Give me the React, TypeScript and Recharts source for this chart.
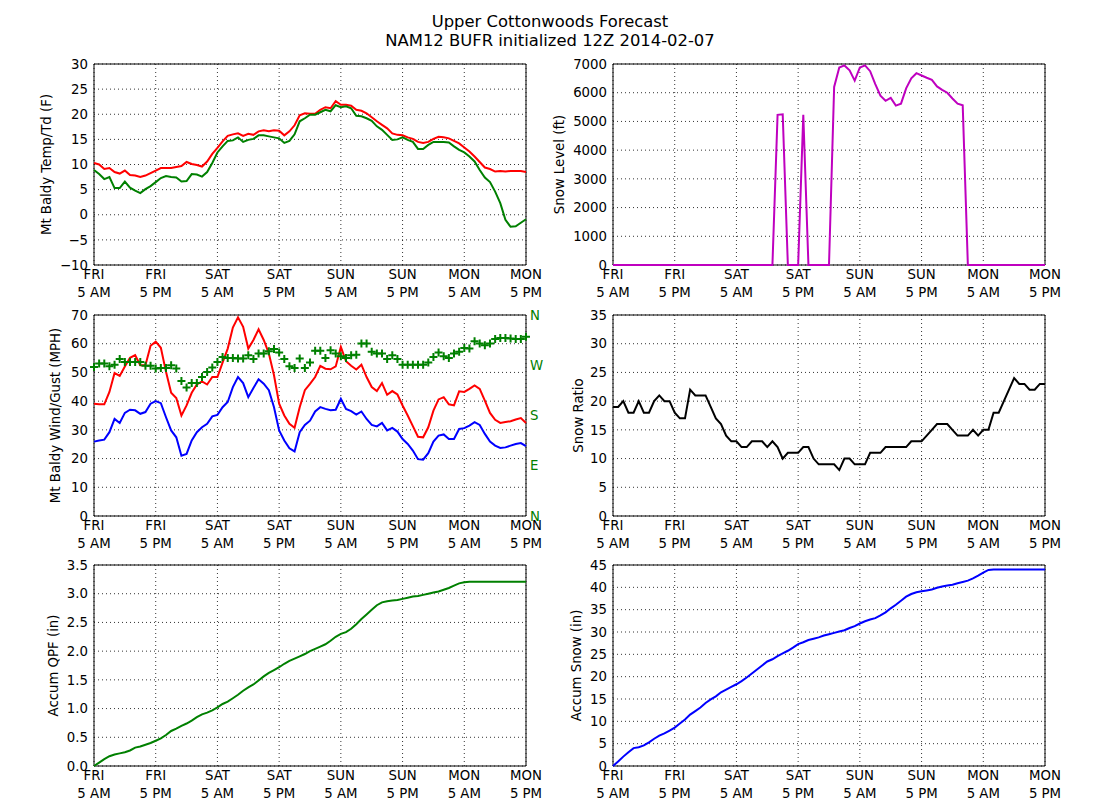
import React from "react";
import {
  LineChart,
  Line,
  XAxis,
  YAxis,
  CartesianGrid,
  ReferenceArea,
} from "recharts";

// x axis: forecast hour 0..84, labelled every 12 h
const hourTicks = [0, 12, 24, 36, 48, 60, 72, 84];
const tickDays = ["FRI", "FRI", "SAT", "SAT", "SUN", "SUN", "MON", "MON"];
const tickTimes = ["5 AM", "5 PM", "5 AM", "5 PM", "5 AM", "5 PM", "5 AM", "5 PM"];

// Mt Baldy temperature / dewpoint (F)
const temp = [
  10.3, 10.0, 9.1, 9.3, 8.5, 8.2, 8.8, 7.9, 7.8, 7.5,
  7.8, 8.3, 8.8, 9.3, 9.3, 9.3, 9.5, 9.7, 10.5, 10.1,
  9.9, 9.6, 10.6, 12.1, 13.3, 14.6, 15.7, 16.0, 16.2, 15.7,
  16.1, 15.9, 16.6, 16.8, 16.6, 16.8, 16.7, 15.8, 16.6, 17.8,
  19.8, 20.2, 20.1, 20.1, 20.9, 21.4, 21.2, 22.6, 21.9, 21.9,
  21.7, 20.9, 20.7, 20.2, 19.4, 18.6, 17.9, 17.2, 16.2, 15.9,
  15.8, 15.4, 15.1, 14.5, 14.3, 14.5, 15.1, 15.5, 15.4, 15.2,
  14.7, 14.2, 13.4, 12.6, 11.6, 10.5, 9.4, 9.1, 8.6, 8.7,
  8.6, 8.7, 8.7, 8.7, 8.5,
];
const dewpoint = [
  8.9, 8.1, 7.1, 7.5, 5.3, 5.3, 6.6, 5.4, 4.8, 4.3,
  5.1, 5.7, 6.5, 7.3, 7.7, 7.5, 7.4, 6.6, 6.7, 8.1,
  8.0, 7.6, 8.5, 10.3, 12.4, 13.6, 14.7, 14.8, 15.4, 14.5,
  14.9, 15.1, 15.8, 15.8, 15.6, 15.4, 15.2, 14.3, 14.7, 16.0,
  18.6, 19.2, 19.9, 19.9, 20.4, 20.9, 20.6, 21.8, 21.4, 21.6,
  21.2, 19.7, 19.6, 19.2, 18.7, 17.6, 16.9, 15.9, 14.9, 15.0,
  15.4, 14.9, 14.5, 13.1, 13.1, 13.9, 14.5, 14.5, 14.5, 14.4,
  13.6, 12.9, 12.4, 11.6, 10.6, 8.9, 7.4, 6.5, 4.6, 2.3,
  -1.0, -2.4, -2.3, -1.6, -0.9,
];

// snow level (ft)
const snowLevel = [
  0, 0, 0, 0, 0, 0, 0, 0, 0, 0,
  0, 0, 0, 0, 0, 0, 0, 0, 0, 0,
  0, 0, 0, 0, 0, 0, 0, 0, 0, 0,
  0, 0, 5230, 5250, 0, 0, 0, 5230, 0, 0,
  0, 0, 0, 6200, 6880, 6950, 6780, 6420, 6880, 6950,
  6750, 6300, 5900, 5720, 5820, 5550, 5620, 6150, 6500, 6680,
  6600, 6520, 6450, 6220, 6100, 6000, 5800, 5620, 5560, 0,
  0, 0, 0, 0, 0, 0, 0, 0, 0, 0,
  0, 0, 0, 0, 0,
];

// wind gust / sustained wind (MPH), direction (deg)
const gust = [
  39.1, 38.9, 38.9, 43.2, 49.8, 48.8, 52.1, 55.1, 56.0, 52.5,
  52.5, 59.3, 60.7, 58.6, 50.2, 42.9, 41.1, 35.0, 38.5, 42.9,
  45.8, 46.9, 45.8, 48.4, 48.4, 53.4, 58.3, 65.6, 69.2, 65.9,
  58.3, 61.3, 65.0, 61.3, 56.6, 49.0, 39.1, 35.0, 32.1, 30.7,
  37.9, 43.8, 46.0, 48.4, 52.3, 51.3, 51.1, 52.1, 58.9, 53.9,
  52.3, 51.0, 52.7, 48.4, 44.9, 43.5, 46.3, 42.2, 43.5, 42.3,
  38.5, 35.0, 31.3, 27.6, 27.4, 30.9, 36.7, 40.6, 41.4, 38.9,
  38.5, 43.4, 43.2, 44.3, 45.5, 44.3, 40.2, 35.9, 33.5, 32.4,
  32.7, 33.0, 33.6, 34.1, 32.4,
];
const wind = [
  25.9, 26.3, 26.6, 29.2, 33.8, 32.4, 35.9, 37.0, 36.8, 35.6,
  36.2, 39.1, 40.0, 39.3, 34.4, 29.8, 27.4, 21.0, 21.6, 26.3,
  29.2, 30.9, 32.1, 34.7, 35.2, 37.9, 39.7, 44.9, 48.4, 46.3,
  41.4, 44.6, 47.6, 46.1, 43.8, 37.9, 29.8, 26.3, 23.6, 22.5,
  29.2, 31.7, 33.2, 36.4, 37.9, 37.3, 36.8, 37.0, 40.8, 37.3,
  36.5, 35.3, 36.4, 33.8, 31.7, 31.2, 32.4, 29.8, 30.7, 29.4,
  26.8, 25.1, 22.8, 19.8, 19.6, 21.9, 25.9, 28.0, 28.4, 26.8,
  26.8, 30.3, 30.6, 31.5, 32.7, 31.7, 28.6, 25.9, 24.5, 23.7,
  23.9, 24.5, 25.1, 25.4, 24.3,
];
const windDir = [
  267, 273, 273, 268, 271, 281, 276, 276, 276, 276,
  269, 269, 264, 265, 265, 270, 264, 242, 230, 238,
  238, 249, 258, 266, 276, 285, 283, 283, 282, 282,
  288, 281, 291, 291, 295, 299, 293, 281, 268, 265,
  282, 265, 275, 296, 296, 283, 297, 291, 286, 283,
  288, 289, 309, 309, 294, 291, 291, 281, 288, 281,
  271, 271, 271, 271, 271, 275, 285, 293, 286, 283,
  291, 294, 301, 300, 313, 309, 306, 309, 317, 319,
  319, 318, 317, 317, 321,
];
const dirTicks = [0, 90, 180, 270, 360];
const dirLabels = ["N", "E", "S", "W", "N"];

// snow ratio
const snowRatio = [
  19, 19, 20, 18, 18, 20, 18, 18, 20, 21,
  20, 20, 18, 17, 17, 22, 21, 21, 21, 19,
  17, 16, 14, 13, 13, 12, 12, 13, 13, 13,
  12, 13, 12, 10, 11, 11, 11, 12, 12, 10,
  9, 9, 9, 9, 8, 10, 10, 9, 9, 9,
  11, 11, 11, 12, 12, 12, 12, 12, 13, 13,
  13, 14, 15, 16, 16, 16, 15, 14, 14, 14,
  15, 14, 15, 15, 18, 18, 20, 22, 24, 23,
  23, 22, 22, 23, 23,
];

// accumulated QPF (in) and snow (in)
const qpf = [
  0, 0.06, 0.12, 0.17, 0.2, 0.22, 0.24, 0.27, 0.32, 0.34,
  0.37, 0.4, 0.44, 0.48, 0.54, 0.61, 0.65, 0.7, 0.74, 0.79,
  0.85, 0.9, 0.93, 0.97, 1.02, 1.08, 1.12, 1.18, 1.24, 1.31,
  1.37, 1.42, 1.49, 1.56, 1.62, 1.67, 1.72, 1.78, 1.83, 1.87,
  1.91, 1.95, 2.0, 2.04, 2.08, 2.12, 2.18, 2.25, 2.3, 2.33,
  2.39, 2.47, 2.56, 2.64, 2.72, 2.8, 2.85, 2.87, 2.88, 2.89,
  2.91, 2.93, 2.95, 2.96, 2.98, 3.0, 3.02, 3.04, 3.07, 3.1,
  3.14, 3.18, 3.2, 3.21, 3.21, 3.21, 3.21, 3.21, 3.21, 3.21,
  3.21, 3.21, 3.21, 3.21, 3.21,
];
const snowAccum = [
  0, 1.0, 2.1, 3.1, 4.0, 4.2, 4.6, 5.3, 6.1, 6.8,
  7.3, 7.9, 8.6, 9.5, 10.4, 11.5, 12.3, 13.1, 14.1, 14.9,
  15.6, 16.5, 17.1, 17.7, 18.3, 19.0, 19.8, 20.7, 21.6, 22.5,
  23.4, 23.9, 24.6, 25.2, 25.8, 26.5, 27.3, 27.7, 28.2, 28.5,
  28.8, 29.2, 29.5, 29.8, 30.1, 30.4, 30.9, 31.3, 31.9, 32.4,
  32.8, 33.1, 33.7, 34.4, 35.3, 36.1, 37.0, 37.9, 38.5, 38.9,
  39.1, 39.3, 39.5, 39.9, 40.2, 40.4, 40.6, 40.9, 41.2, 41.5,
  42.0, 42.6, 43.3, 43.9, 44.0, 44.0, 44.0, 44.0, 44.0, 44.0,
  44.0, 44.0, 44.0, 44.0, 44.0,
];

const rows = temp.map((t, i) => ({
  hour: i,
  temp: t,
  dew: dewpoint[i],
  level: snowLevel[i],
  gust: gust[i],
  wind: wind[i],
  dir: windDir[i],
  ratio: snowRatio[i],
  qpf: qpf[i],
  snow: snowAccum[i],
}));

const PLOT_W = 432;
const PLOT_H = 201;
const PAD_L = 70;
const PAD_T = 12;
const PAD_R = 40;
const PAD_B = 40;
const FONT = 13.3;

const minus = (v: number) => String(v).replace("-", "\u2212");

function HourTick(props: any) {
  const { x, y, payload } = props;
  const i = hourTicks.indexOf(payload.value);
  return (
    <text x={x} y={y} textAnchor="middle" fill="#000" fontSize={FONT}>
      <tspan x={x} dy={14}>
        {tickDays[i]}
      </tspan>
      <tspan x={x} dy={18}>
        {tickTimes[i]}
      </tspan>
    </text>
  );
}

function PlusDot(props: any) {
  const { cx, cy, index } = props;
  if (cx == null || cy == null) return null;
  return (
    <path
      key={`dir-${index}`}
      d={`M${cx - 4},${cy}h8M${cx},${cy - 4}v8`}
      stroke="#008000"
      strokeWidth={2}
      fill="none"
    />
  );
}

type PanelProps = {
  left: number;
  top: number;
  domain: [number, number];
  ticks: number[];
  label: string;
  labelX: number;
  fmt?: (v: number) => string;
  withDir?: boolean;
  children: React.ReactNode;
};

function Panel(props: PanelProps) {
  const { left, top, domain, ticks, label, labelX, fmt, withDir, children } = props;
  return (
    <div style={{ position: "absolute", left: left - PAD_L, top: top - PAD_T }}>
      <LineChart
        width={PAD_L + PLOT_W + PAD_R}
        height={PAD_T + PLOT_H + PAD_B}
        data={rows}
        margin={{ top: PAD_T, right: withDir ? 0 : PAD_R, bottom: 0, left: 0 }}
      >
        <CartesianGrid
          yAxisId="main"
          stroke="#000"
          strokeDasharray="1 3"
          strokeWidth={0.8}
        />
        <XAxis
          dataKey="hour"
          type="number"
          domain={[0, 84]}
          ticks={hourTicks}
          interval={0}
          height={PAD_B}
          tick={<HourTick />}
          tickLine={false}
          axisLine={false}
          tickSize={0}
          tickMargin={0}
        />
        <YAxis
          yAxisId="main"
          width={PAD_L}
          domain={domain}
          ticks={ticks}
          interval={0}
          tickFormatter={fmt ?? minus}
          tickLine={false}
          axisLine={false}
          tickSize={0}
          tickMargin={6}
          tick={{ fill: "#000", fontSize: FONT }}
          label={{
            value: label,
            angle: -90,
            position: "insideLeft",
            offset: labelX,
            style: { textAnchor: "middle", fill: "#000", fontSize: FONT },
          }}
        />
        {withDir && (
          <YAxis
            yAxisId="dir"
            orientation="right"
            width={PAD_R}
            domain={[0, 360]}
            ticks={dirTicks}
            interval={0}
            tickFormatter={(v: number) => dirLabels[dirTicks.indexOf(v)]}
            tickLine={false}
            axisLine={false}
            tickSize={0}
            tickMargin={4}
            tick={{ fill: "#008000", fontSize: FONT }}
          />
        )}
        {children}
        <ReferenceArea
          yAxisId="main"
          x1={0}
          x2={84}
          y1={domain[0]}
          y2={domain[1]}
          fill="none"
          stroke="#000"
          strokeWidth={1}
          ifOverflow="visible"
        />
      </LineChart>
    </div>
  );
}

const lineProps = {
  yAxisId: "main",
  type: "linear" as const,
  dot: false,
  activeDot: false,
  strokeWidth: 2,
  isAnimationActive: false,
};

export default function App() {
  return (
    <div
      style={{
        position: "absolute",
        left: 0,
        top: 0,
        width: 1100,
        height: 800,
        background: "#fff",
        fontFamily: "'DejaVu Sans', sans-serif",
      }}
    >
      <div
        style={{
          position: "absolute",
          left: 0,
          top: 13,
          width: 1100,
          textAlign: "center",
          fontSize: 16.4,
          lineHeight: "18.5px",
          color: "#000",
        }}
      >
        Upper Cottonwoods Forecast
        <br />
        NAM12 BUFR initialized 12Z 2014-02-07
      </div>

      <Panel
        left={94}
        top={64}
        domain={[-10, 30]}
        ticks={[-10, -5, 0, 5, 10, 15, 20, 25, 30]}
        label="Mt Baldy Temp/Td (F)"
        labelX={22}
      >
        <Line {...lineProps} dataKey="temp" stroke="#ff0000" />
        <Line {...lineProps} dataKey="dew" stroke="#008000" />
      </Panel>

      <Panel
        left={613}
        top={64}
        domain={[0, 7000]}
        ticks={[0, 1000, 2000, 3000, 4000, 5000, 6000, 7000]}
        label="Snow Level (ft)"
        labelX={16}
      >
        <Line {...lineProps} dataKey="level" stroke="#bf00bf" />
      </Panel>

      <Panel
        left={94}
        top={315}
        domain={[0, 70]}
        ticks={[0, 10, 20, 30, 40, 50, 60, 70]}
        label="Mt Baldy Wind/Gust (MPH)"
        labelX={31}
        withDir
      >
        <Line {...lineProps} dataKey="gust" stroke="#ff0000" />
        <Line {...lineProps} dataKey="wind" stroke="#0000ff" />
        <Line
          yAxisId="dir"
          type="linear"
          dataKey="dir"
          stroke="none"
          dot={PlusDot}
          activeDot={false}
          isAnimationActive={false}
        />
      </Panel>

      <Panel
        left={613}
        top={315}
        domain={[0, 35]}
        ticks={[0, 5, 10, 15, 20, 25, 30, 35]}
        label="Snow Ratio"
        labelX={35}
      >
        <Line {...lineProps} dataKey="ratio" stroke="#000000" />
      </Panel>

      <Panel
        left={94}
        top={565}
        domain={[0, 3.5]}
        ticks={[0, 0.5, 1, 1.5, 2, 2.5, 3, 3.5]}
        label="Accum QPF (in)"
        labelX={29}
        fmt={(v: number) => v.toFixed(1)}
      >
        <Line {...lineProps} dataKey="qpf" stroke="#008000" />
      </Panel>

      <Panel
        left={613}
        top={565}
        domain={[0, 45]}
        ticks={[0, 5, 10, 15, 20, 25, 30, 35, 40, 45]}
        label="Accum Snow (in)"
        labelX={33}
      >
        <Line {...lineProps} dataKey="snow" stroke="#0000ff" />
      </Panel>
    </div>
  );
}
